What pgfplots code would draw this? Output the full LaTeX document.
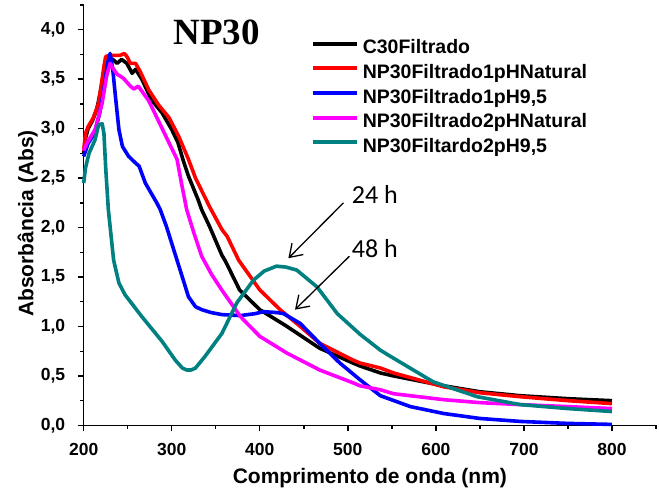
\documentclass[border=0pt]{standalone}
\usepackage{fontspec}
\setmainfont{Liberation Sans}
\newfontfamily\titlefont{Liberation Serif}
\newfontfamily\annfont{Carlito}
\usepackage{pgfplots}
\pgfplotsset{compat=1.18}
\usetikzlibrary{arrows.meta}
\definecolor{tealc}{RGB}{0,128,128}
\definecolor{magc}{RGB}{255,0,255}
\definecolor{redc}{RGB}{255,0,0}
\definecolor{bluec}{RGB}{0,0,255}
\begin{document}
\begin{tikzpicture}
\useasboundingbox (-83.7pt,-66.6pt) rectangle (575.3pt,425.4pt);
\begin{axis}[
  scale only axis,
  width=572.3pt, height=420.4pt,
  xmin=200, xmax=850, ymin=0, ymax=4.25,
  axis lines=left,
  axis line style={-, line width=1.6pt},
  tick align=outside,
  major tick length=6pt, minor tick length=4pt,
  every tick/.style={line width=1.4pt, black},
  xtick={200,300,...,800},
  minor xtick={250,350,...,850},
  ytick={0,0.5,...,4},
  minor ytick={0.25,0.75,...,4.25},
  /pgf/number format/assume math mode=true,
  ticklabel style={font=\fontsize{17.5}{17.5}\selectfont\bfseries},
  xticklabel style={yshift=-8pt},
  yticklabel style={xshift=-9pt, /pgf/number format/.cd, fixed, fixed zerofill, precision=1, use comma},
  xlabel={Comprimento de onda (nm)},
  ylabel={Absorbância (Abs)},
  every axis x label/.style={at={([yshift=-58.6pt]axis description cs:0.5,0)}, anchor=base, font=\fontsize{21}{21}\selectfont\bfseries},
  every axis y label/.style={at={([xshift=-50.4pt]axis description cs:0,0.48)}, rotate=90, anchor=base, font=\fontsize{21}{21}\selectfont\bfseries},
  clip=false,
  legend style={at={(rel axis cs:0.3965,0.918)}, anchor=north west, draw=none, fill=none,
    font=\fontsize{19.5}{19.5}\selectfont\bfseries, inner sep=0pt, row sep=6.3pt,
    nodes={inner sep=0pt, text height=14.3pt, text depth=4pt}},
  legend cell align=left,
  legend image code/.code={\draw[#1, line width=4pt] (0pt,5pt) -- (44pt,5pt);},
  /tikz/every odd column/.append style={column sep=4pt},
  every axis plot/.append style={line width=3.6pt, line join=round},
]
\addplot[black] coordinates {
(200,2.75)(202,2.90)(205,3.00)(210,3.08)(215,3.20)(220,3.42)(225,3.65)(228,3.72)
(233,3.70)(238,3.66)(243,3.70)(249,3.66)(255,3.56)(259,3.60)(266,3.50)(277,3.29)
(289,3.16)(300,2.99)(307,2.86)(313,2.68)(319,2.52)(330,2.28)(334,2.18)(343,2.01)
(357,1.72)(361,1.66)(377,1.37)(400,1.17)(431,1.00)(468,0.78)(506,0.63)(514,0.60)
(537,0.53)(552,0.50)(609,0.40)(650,0.34)(696,0.30)(750,0.27)(800,0.25)};
\addlegendentry{C30Filtrado}
\addplot[redc] coordinates {
(200,2.77)(202,2.95)(205,3.02)(211,3.11)(217,3.26)(223,3.63)(225,3.73)(230,3.74)
(236,3.74)(241,3.74)(246,3.76)(249,3.73)(253,3.66)(259,3.66)(264,3.58)(274,3.39)
(285,3.24)(297,3.11)(308,2.92)(319,2.69)(327,2.50)(343,2.21)(357,1.98)(363,1.91)
(376,1.67)(400,1.37)(423,1.17)(446,1.00)(468,0.83)(506,0.66)(514,0.63)(537,0.58)
(552,0.53)(609,0.39)(650,0.33)(696,0.29)(750,0.25)(800,0.22)};
\addlegendentry{NP30Filtrado1pHNatural}
\addplot[bluec] coordinates {
(200,2.72)(205,2.85)(212,2.95)(218,3.15)(223,3.40)(227,3.65)(230,3.76)(233,3.60)
(236,3.33)(240,2.99)(244,2.82)(251,2.72)(258,2.66)(263,2.62)(270,2.45)(283,2.25)
(287,2.18)(294,2.01)(300,1.84)(306,1.67)(312,1.50)(319,1.30)(327,1.20)(334,1.17)
(345,1.14)(357,1.12)(378,1.11)(395,1.13)(404,1.15)(420,1.14)(427,1.13)(446,1.03)
(468,0.83)(491,0.63)(514,0.46)(537,0.30)(571,0.19)(609,0.12)(650,0.07)(696,0.04)
(750,0.02)(800,0.01)};
\addlegendentry{NP30Filtrado1pH9,5}
\addplot[magc] coordinates {
(200,2.78)(204,2.86)(213,2.99)(221,3.26)(226,3.53)(230,3.66)(234,3.60)(238,3.55)
(245,3.51)(253,3.43)(257,3.40)(262,3.43)(274,3.28)(287,3.04)(300,2.80)(306,2.69)
(311,2.45)(317,2.18)(325,1.95)(334,1.71)(345,1.53)(356,1.38)(378,1.10)(400,0.90)
(431,0.73)(468,0.56)(506,0.43)(514,0.40)(537,0.36)(552,0.32)(609,0.26)(650,0.23)
(696,0.21)(750,0.19)(800,0.17)};
\addlegendentry{NP30Filtrado2pHNatural}
\addplot[tealc] coordinates {
(200,2.45)(202,2.60)(206,2.75)(213,2.89)(217,3.04)(221,3.05)(223,2.95)(225,2.60)
(228,2.18)(234,1.67)(240,1.44)(247,1.32)(266,1.10)(289,0.85)(304,0.66)(312,0.58)
(317,0.56)(322,0.56)(327,0.58)(338,0.70)(357,0.93)(374,1.24)(393,1.47)(405,1.56)
(419,1.61)(430,1.60)(442,1.57)(465,1.40)(488,1.13)(514,0.92)(537,0.76)(548,0.70)
(597,0.44)(647,0.29)(696,0.21)(750,0.17)(800,0.14)};
\addlegendentry{NP30Filtardo2pH9,5}
\node[anchor=base, font=\titlefont\fontsize{37}{37}\selectfont\bfseries] at (axis cs:351,3.855) {NP30};
\node[anchor=base west, inner sep=0pt, font=\annfont\fontsize{26}{26}\selectfont] at (axis cs:504.5,2.24) {24 h};
\node[anchor=base west, inner sep=0pt, font=\annfont\fontsize{26}{26}\selectfont] at (axis cs:504.5,1.70) {48 h};
\draw[line width=1.3pt, -{Straight Barb[length=12pt, width=16pt, line width=1.3pt]}] (axis cs:495,2.25) -- (axis cs:432.5,1.69);
\draw[line width=1.3pt, -{Straight Barb[length=12pt, width=16pt, line width=1.3pt]}] (axis cs:501.8,1.71) -- (axis cs:440,1.17);
\end{axis}
\end{tikzpicture}
\end{document}
